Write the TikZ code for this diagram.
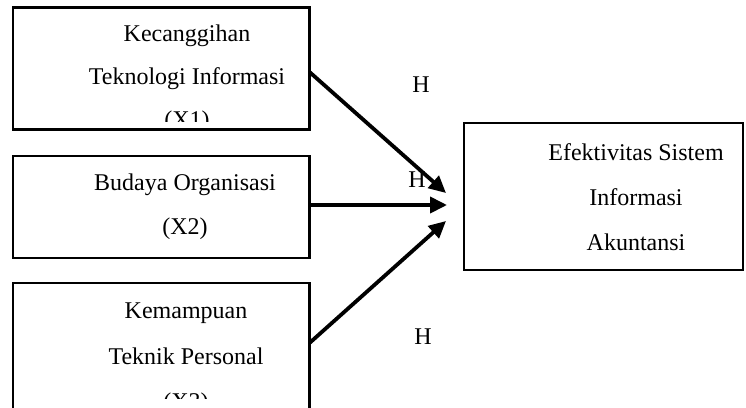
\documentclass[tikz,border=0pt]{standalone}
\usepackage{fontspec}
\setmainfont{Liberation Serif}
\usetikzlibrary{arrows.meta}
\begin{document}
\begin{tikzpicture}[x=1pt,y=-1pt,
  box/.style={draw,line width=2.3pt,rectangle,inner sep=0pt,outer sep=0pt},
  txt/.style={font=\fontsize{24}{28}\selectfont,anchor=base,inner sep=0pt},
  hlab/.style={font=\fontsize{24}{28}\selectfont,inner sep=0pt},
  arr/.style={line width=3.8pt,-{Triangle[length=17pt,width=16pt]}}]
\useasboundingbox (0,0) rectangle (746,407);
% boxes
\node[box,minimum width=296.5pt,minimum height=122pt] (b1) at (161.25,68.5) {};
\node[box,minimum width=296.5pt,minimum height=102pt] (b2) at (161.25,207) {};
\node[box,minimum width=296.5pt,minimum height=137pt] (b3) at (161.25,351.5) {};
\node[box,minimum width=279pt,minimum height=147pt,line width=2.5pt] (b4) at (603.5,196.5) {};
% texts box 1
\node[txt] (t1a) at (187,41) {Kecanggihan};
\node[txt] (t1b) at (187,84) {Teknologi Informasi};
\begin{scope}
\clip (20,100) rectangle (300,121);
\node[txt] (t1c) at (187,127) {(X1)};
\end{scope}
% texts box 2
\node[txt] (t2a) at (185,190) {Budaya Organisasi};
\node[txt] (t2b) at (185,234) {(X2)};
% texts box 3
\node[txt] (t3a) at (186,318) {Kemampuan};
\node[txt] (t3b) at (186,364) {Teknik Personal};
\begin{scope}
\clip (20,380) rectangle (300,398);
\node[txt] (t3c) at (186,409) {(X3)};
\end{scope}
% texts box 4
\node[txt] (t4a) at (636,160) {Efektivitas Sistem};
\node[txt] (t4b) at (636,205) {Informasi};
\node[txt] (t4c) at (636,250) {Akuntansi};
% H labels
\node[hlab] (h1) at (421,85) {H};
\node[hlab] (h2) at (417,180) {H};
\node[hlab] (h3) at (423,337) {H};
% arrows
\coordinate (e1) at (446,193);
\coordinate (e2) at (447,205);
\coordinate (e3) at (446,221);
\draw[arr] ([yshift=-3.5pt]b1.east) -- (e1);
\draw[arr] ([yshift=2pt]b2.east) -- (e2);
\draw[arr] ([yshift=8.5pt]b3.east) -- (e3);
\end{tikzpicture}
\end{document}
